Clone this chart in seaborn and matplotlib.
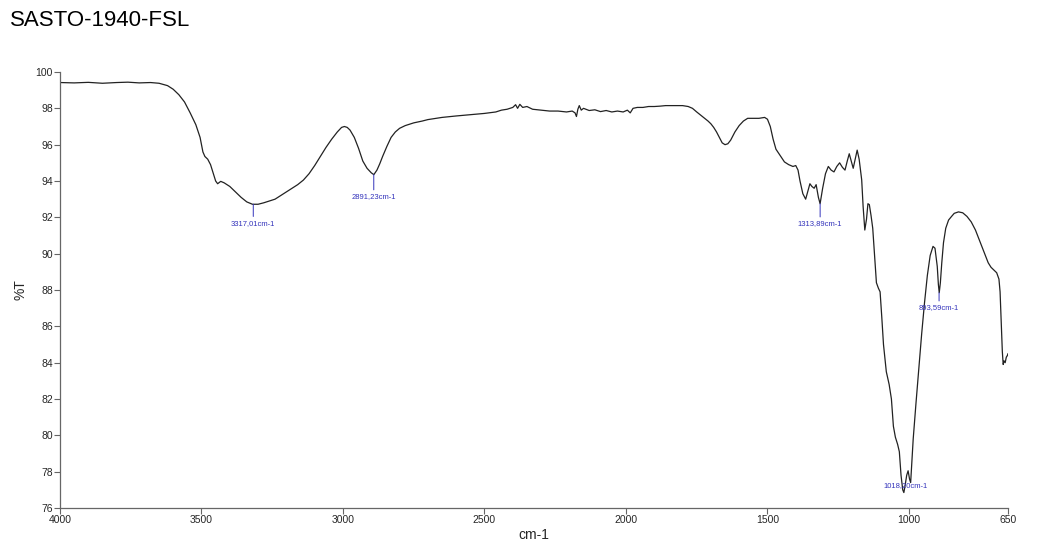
import matplotlib
matplotlib.use("Agg")
import matplotlib.pyplot as plt
import seaborn as sns
import pandas as pd

# ---- data ----
wavenumber = [4000, 3950, 3900, 3850, 3800, 3760, 3720, 3680, 3650, 3620, 3600, 3580, 3560, 3540,
              3520, 3505, 3495, 3488, 3478, 3468, 3458, 3450, 3443, 3432, 3420, 3400, 3380, 3360,
              3340, 3320, 3300, 3280, 3260, 3240, 3220, 3200, 3180, 3160, 3140, 3120, 3100, 3080,
              3060, 3040, 3020, 3005, 2995, 2985, 2975, 2960, 2945, 2930, 2915, 2900, 2891, 2880,
              2870, 2860, 2845, 2830, 2815, 2800, 2780, 2750, 2720, 2700, 2650, 2600, 2550, 2500,
              2460, 2440, 2420, 2400, 2390, 2383, 2375, 2365, 2350, 2330, 2300, 2270, 2240, 2210,
              2190, 2180, 2175, 2170, 2165, 2158, 2150, 2130, 2110, 2090, 2070, 2050, 2030, 2010,
              1995, 1985, 1975, 1960, 1940, 1920, 1900, 1880, 1860, 1840, 1820, 1800, 1780, 1765,
              1750, 1730, 1710, 1700, 1690, 1680, 1670, 1660, 1650, 1640, 1630, 1615, 1600, 1585,
              1570, 1550, 1530, 1510, 1500, 1490, 1480, 1470, 1455, 1440, 1425, 1410, 1400, 1392,
              1385, 1375, 1365, 1358, 1350, 1343, 1335, 1328, 1320, 1314, 1305, 1295, 1285, 1275,
              1265, 1255, 1245, 1235, 1226, 1218, 1211, 1204, 1197, 1190, 1183, 1176, 1167, 1162,
              1156, 1150, 1145, 1140, 1134, 1128, 1122, 1115, 1108, 1102, 1096, 1090, 1080, 1070,
              1062, 1055, 1048, 1040, 1034, 1028, 1022, 1018, 1014, 1008, 1003, 998, 994, 990,
              985, 975, 965, 955, 945, 935, 925, 915, 908, 900, 896, 893, 889, 884, 878, 870,
              860, 850, 840, 825, 810, 795, 780, 765, 750, 735, 720, 710, 700, 690, 682, 678,
              674, 670, 667, 664, 660, 656, 652, 650]
transmittance = [99.42, 99.40, 99.43, 99.38, 99.42, 99.44, 99.40, 99.42, 99.38, 99.25, 99.05, 98.75, 98.35, 97.75,
                 97.10, 96.40, 95.60, 95.35, 95.20, 94.90, 94.40, 94.00, 93.85, 93.98, 93.90, 93.70, 93.40, 93.10,
                 92.85, 92.72, 92.72, 92.80, 92.90, 93.00, 93.20, 93.40, 93.60, 93.80, 94.05, 94.40, 94.85, 95.35,
                 95.85, 96.30, 96.70, 96.95, 97.00, 96.95, 96.80, 96.40, 95.80, 95.10, 94.70, 94.45, 94.35, 94.60,
                 94.95, 95.35, 95.90, 96.40, 96.70, 96.90, 97.05, 97.20, 97.30, 97.38, 97.50, 97.58, 97.65, 97.72,
                 97.80, 97.90, 97.95, 98.05, 98.20, 98.00, 98.22, 98.05, 98.10, 97.95, 97.90, 97.85, 97.85, 97.80,
                 97.85, 97.75, 97.55, 97.95, 98.15, 97.90, 98.00, 97.88, 97.92, 97.82, 97.88, 97.80, 97.85, 97.80,
                 97.90, 97.75, 98.00, 98.05, 98.05, 98.10, 98.10, 98.12, 98.15, 98.15, 98.15, 98.15, 98.10, 98.00,
                 97.80, 97.55, 97.30, 97.15, 96.95, 96.70, 96.40, 96.10, 96.00, 96.05, 96.25, 96.70, 97.05, 97.30,
                 97.45, 97.45, 97.45, 97.50, 97.40, 97.00, 96.30, 95.75, 95.40, 95.05, 94.90, 94.80, 94.85, 94.60,
                 94.00, 93.30, 93.00, 93.40, 93.85, 93.70, 93.60, 93.80, 93.10, 92.75, 93.60, 94.40, 94.80, 94.60,
                 94.50, 94.80, 95.00, 94.75, 94.60, 95.10, 95.50, 95.10, 94.70, 95.20, 95.70, 95.20, 94.06, 92.60,
                 91.30, 91.90, 92.75, 92.70, 92.10, 91.40, 90.00, 88.40, 88.10, 87.90, 86.50, 85.00, 83.50, 82.80,
                 82.00, 80.50, 79.90, 79.50, 79.10, 77.80, 77.00, 76.85, 77.20, 77.80, 78.05, 77.60, 77.40, 78.50,
                 79.80, 81.80, 83.70, 85.60, 87.30, 88.80, 89.90, 90.40, 90.30, 89.30, 88.30, 87.85, 88.40, 89.50,
                 90.60, 91.40, 91.85, 92.04, 92.22, 92.30, 92.25, 92.05, 91.75, 91.30, 90.70, 90.10, 89.50, 89.25,
                 89.10, 88.95, 88.60, 87.90, 86.30, 84.60, 83.90, 84.10, 84.00, 84.30, 84.40, 84.50]

peak_positions = [3317.01, 2891.23, 1313.89, 893.59, 1018.20]
peak_values = [92.72, 94.35, 92.75, 87.85, 76.85]
peak_labels = ["3317,01cm-1", "2891,23cm-1", "1313,89cm-1", "893,59cm-1", "1018,20cm-1"]

x_ticks = [4000, 3500, 3000, 2500, 2000, 1500, 1000, 650]
y_ticks = [76, 78, 80, 82, 84, 86, 88, 90, 92, 94, 96, 98, 100]

df = pd.DataFrame({"wn": wavenumber, "T": transmittance})

sns.set_theme(style="white")
plt.rcParams["font.family"] = ["Liberation Sans", "DejaVu Sans"]

fig = plt.figure(figsize=(10.43, 5.53), dpi=100)
ax = fig.add_axes([60 / 1043, 1 - 508 / 553, 948 / 1043, 436 / 553])

sns.lineplot(data=df, x="wn", y="T", ax=ax, color="#222222", linewidth=0.9,
             sort=False, estimator=None)

ax.set_xlim(4000, 650)
ax.set_ylim(76, 100)
ax.set_xticks(x_ticks)
ax.set_xticklabels([str(t) for t in x_ticks])
ax.set_yticks(y_ticks)
ax.set_yticklabels([str(t) for t in y_ticks])

for s in ["top", "right"]:
    ax.spines[s].set_visible(False)
for s in ["left", "bottom"]:
    ax.spines[s].set_color("#666666")
    ax.spines[s].set_linewidth(0.9)

ax.tick_params(axis="both", which="both", direction="out", length=4, width=0.8,
               color="#666666", labelsize=7.5, pad=1, left=True, bottom=True)
ax.set_xlabel("cm-1", fontsize=10, labelpad=2)
ax.set_ylabel("%T", fontsize=10, labelpad=6)
ax.grid(False)

blue = "#3333bb"
offsets = [(0, -19), (0, -22), (0, -20), (0, -15)]
for x, y, lab, off in zip(peak_positions[:4], peak_values[:4], peak_labels[:4], offsets):
    ax.annotate(lab, xy=(x, y), xytext=off, textcoords="offset pixels",
                ha="center", va="center", fontsize=5.5, color=blue,
                arrowprops=dict(arrowstyle="-", color=blue, lw=0.7, shrinkA=0, shrinkB=0))
ax.annotate(peak_labels[4], xy=(peak_positions[4], peak_values[4]), xytext=(2, 7),
            textcoords="offset pixels", ha="center", va="center", fontsize=5.5, color=blue)

fig.text(10 / 1043, 1 - 20 / 553, "SASTO-1940-FSL", fontsize=16, ha="left", va="center", color="black")

fig.savefig("out.png", dpi=100)
